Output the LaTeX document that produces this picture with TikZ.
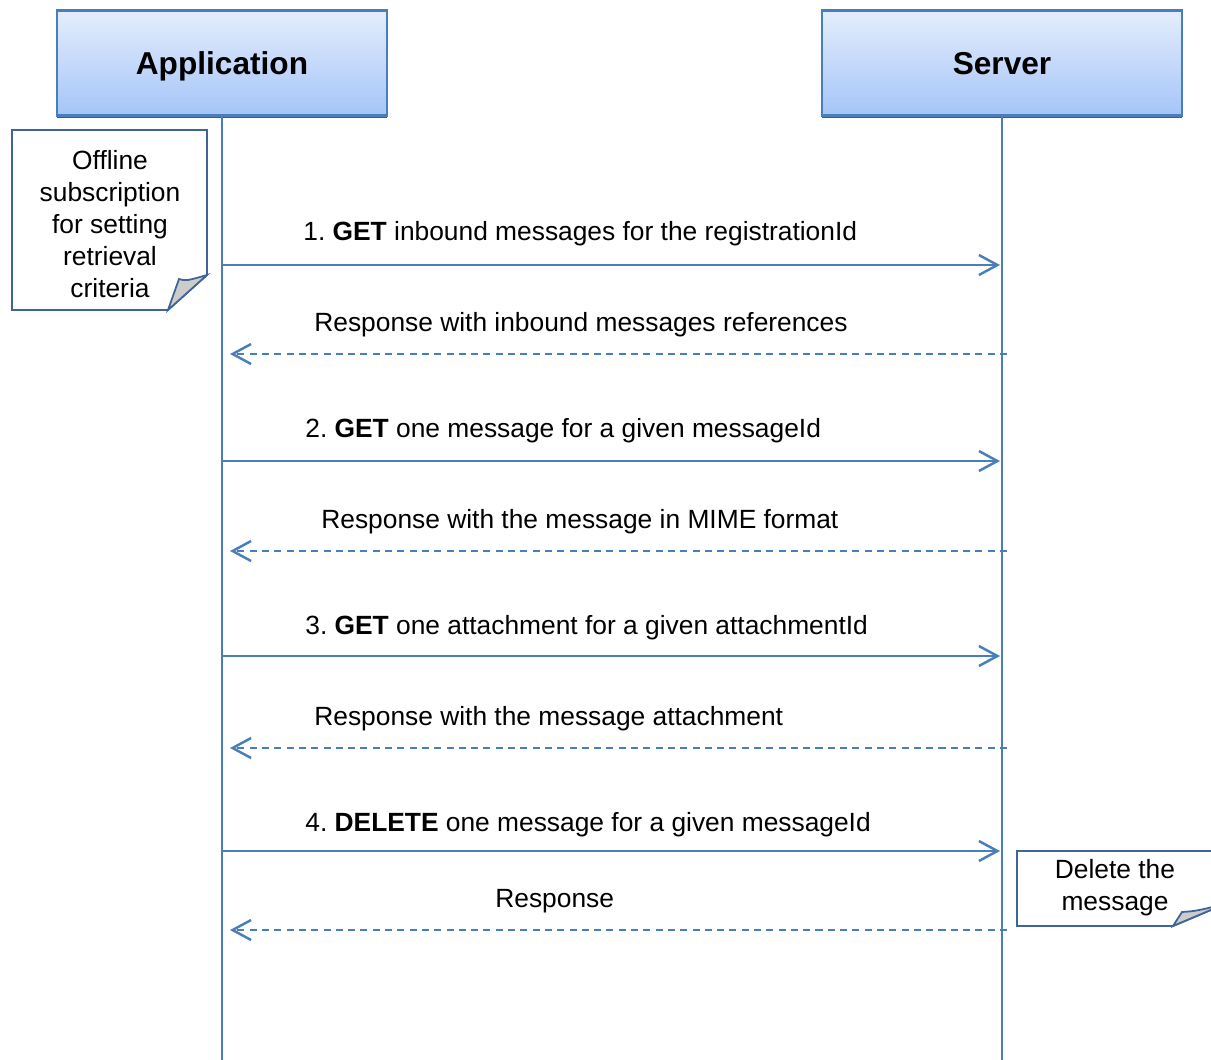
\documentclass[tikz,border=0pt]{standalone}
\usepackage{fontspec}
\setmainfont{Liberation Sans}
\usetikzlibrary{arrows.meta,shadows}
\frenchspacing

\definecolor{lineblue}{HTML}{4A7EBB}
\definecolor{boxtop}{HTML}{E4EDFC}
\definecolor{boxbot}{HTML}{A5C5F8}
\definecolor{noteblue}{HTML}{3F6497}

\begin{document}
\begin{tikzpicture}[x=0.02cm, y=-0.02cm,
  actor/.style={draw=lineblue, line width=1.2pt, top color=boxtop, bottom color=boxbot,
    minimum height=2.1cm, text height=12.9pt, text depth=0pt,
    font=\fontsize{18}{22}\selectfont\bfseries,
    drop shadow={shadow xshift=0mm, shadow yshift=-0.6mm, fill=black!65, opacity=1}},
  life/.style={draw=lineblue, line width=1.2pt},
  call/.style={lineblue, line width=1.4pt, -{Straight Barb[length=3.7mm,width=4mm]}, shorten >=0.4mm},
  reply/.style={call, dash pattern=on 4pt off 3pt, shorten <=-1mm, shorten >=1.6mm},
  msg/.style={font=\fontsize{15}{18}\selectfont, anchor=base west, inner sep=0pt},
  note/.style={draw=noteblue, line width=1pt, fill=white},
  fold/.style={draw=noteblue, line width=1pt, fill=black!20},
  notetext/.style={align=center, font=\fontsize{15}{18.2}\selectfont}]
\useasboundingbox (0,0) rectangle (1211,1059);

% the two actors and their lifelines
\node[actor, minimum width=6.6cm] (app) at (222,63) {Application};
\node[actor, minimum width=7.2cm] (srv) at (1002,63) {Server};
\coordinate (append) at (222,1064);
\coordinate (srvend) at (1002,1064);
\draw[life] (app) -- (append);
\draw[life] (srv) -- (srvend);

\foreach \y [count=\i] in {265,354,461,551,656,748,851,930}{
  \coordinate (a\i) at (222,\y);
  \coordinate (s\i) at (1002,\y);
}

% messages
\draw[call] (a1) -- (s1);
\draw[reply] (s2) -- (a2);
\draw[call] (a3) -- (s3);
\draw[reply] (s4) -- (a4);
\draw[call] (a5) -- (s5);
\draw[reply] (s6) -- (a6);
\draw[call] (a7) -- (s7);
\draw[reply] (s8) -- (a8);

\node[msg] (m1) at (303,240) {1. \textbf{GET} inbound messages for the registrationId};
\node[msg] (m2) at (314,331) {Response with inbound messages references};
\node[msg] (m3) at (305,437) {2. \textbf{GET} one message for a given messageId};
\node[msg] (m4) at (321,528) {Response with the message in MIME format};
\node[msg] (m5) at (305,634) {3. \textbf{GET} one attachment for a given attachmentId};
\node[msg] (m6) at (314,725) {Response with the message attachment};
\node[msg] (m7) at (305,831) {4. \textbf{DELETE} one message for a given messageId};
\node[msg] (m8) at (495,907) {Response};

% notes
\draw[note] (12,130) -- (207,130) -- (207,275) -- (168,310) -- (12,310) -- cycle;
\draw[fold] (168,310) -- (179,279) .. controls (186,281) .. (207,275) -- cycle;
\node[notetext] (sub) at (110,224) {Offline\\subscription\\for setting\\retrieval\\criteria};

\draw[note] (1017,851) -- (1225,851) -- (1225,904) -- (1173,926) -- (1017,926) -- cycle;
\draw[fold] (1173,926) -- (1182,912) .. controls (1196,911) .. (1225,904) -- cycle;
\node[notetext] (del) at (1115,888) {Delete the\\message};
\end{tikzpicture}
\end{document}
